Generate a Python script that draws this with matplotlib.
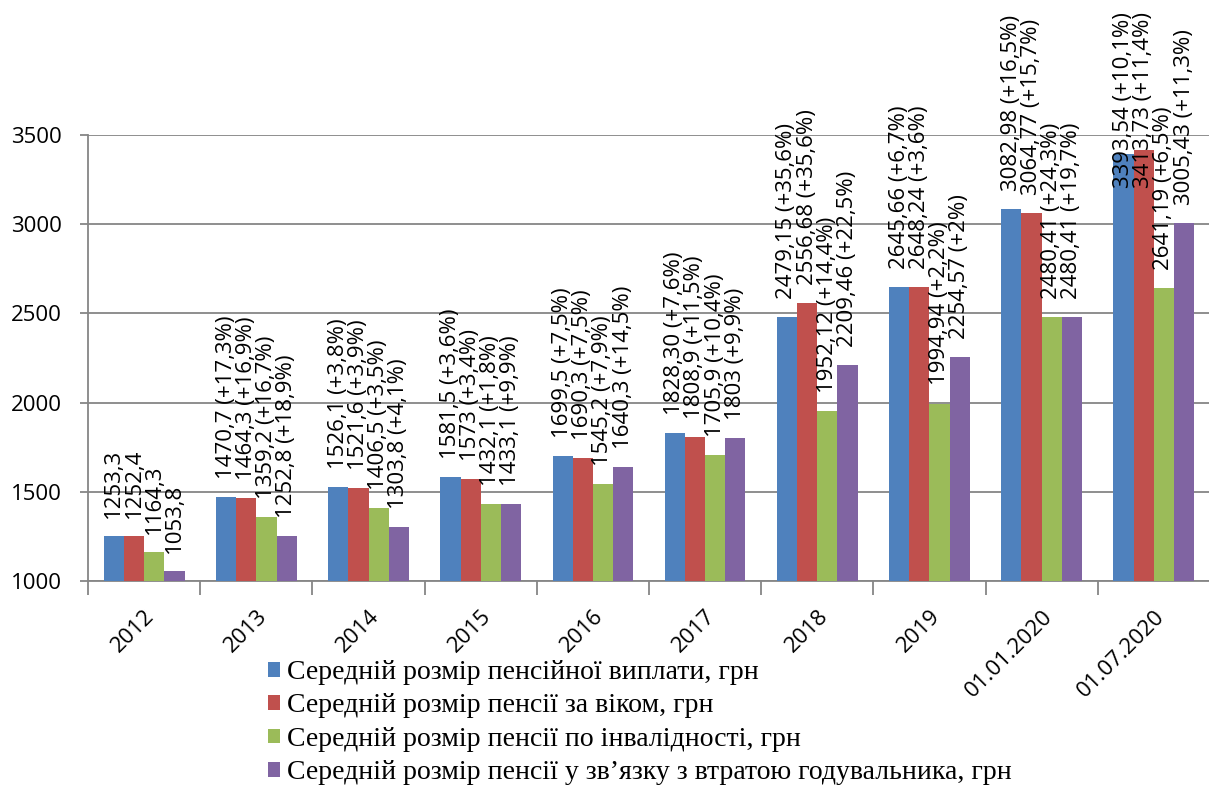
import matplotlib.pyplot as plt
import numpy as np

categories = ['2012', '2013', '2014', '2015', '2016', '2017', '2018', '2019',
              '01.01.2020', '01.07.2020']

avg_pension = [1253.3, 1470.7, 1526.1, 1581.5, 1699.5, 1828.30, 2479.15, 2645.66, 3082.98, 3393.54]
age_pension = [1252.4, 1464.3, 1521.6, 1573, 1690.3, 1808.9, 2556.68, 2648.24, 3064.77, 3413.73]
disab_pension = [1164.3, 1359.2, 1406.5, 1432.1, 1545.2, 1705.9, 1952.12, 1994.94, 2480.41, 2641.19]
surv_pension = [1053.8, 1252.8, 1303.8, 1433.1, 1640.3, 1803, 2209.46, 2254.57, 2480.41, 3005.43]

avg_labels = ['1253,3', '1470,7 (+17,3%)', '1526,1 (+3,8%)', '1581,5 (+3,6%)', '1699,5 (+7,5%)',
              '1828,30 (+7,6%)', '2479,15 (+35,6%)', '2645,66 (+6,7%)', '3082,98 (+16,5%)',
              '3393,54 (+10,1%)']
age_labels = ['1252,4', '1464,3 (+16,9%)', '1521,6 (+3,9%)', '1573 (+3,4%)', '1690,3 (+7,5%)',
              '1808,9 (+11,5%)', '2556,68 (+35,6%)', '2648,24 (+3,6%)', '3064,77 (+15,7%)',
              '3413,73 (+11,4%)']
disab_labels = ['1164,3', '1359,2 (+16,7%)', '1406,5 (+3,5%)', '1432,1 (+1,8%)', '1545,2 (+7,9%)',
                '1705,9 (+10,4%)', '1952,12 (+14,4%)', '1994,94 (+2,2%)', '2480,41 (+24,3%)',
                '2641,19 (+6,5%)']
surv_labels = ['1053,8', '1252,8 (+18,9%)', '1303,8 (+4,1%)', '1433,1 (+9,9%)', '1640,3 (+14,5%)',
               '1803 (+9,9%)', '2209,46 (+22,5%)', '2254,57 (+2%)', '2480,41 (+19,7%)',
               '3005,43 (+11,3%)']

series_names = ['Середній розмір пенсійної виплати, грн',
                'Середній розмір пенсії за віком, грн',
                'Середній розмір пенсії по інвалідності, грн',
                'Середній розмір пенсії у зв’язку з втратою годувальника, грн']
colors = ['#4F81BD', '#C0504D', '#9BBB59', '#8064A2']

series = [avg_pension, age_pension, disab_pension, surv_pension]
labels = [avg_labels, age_labels, disab_labels, surv_labels]

sans = ['Open Sans', 'DejaVu Sans']
serif = ['Liberation Serif', 'DejaVu Serif']
grey = '#868686'

fig = plt.figure(figsize=(12.09, 7.92), dpi=100)
ax = fig.add_axes([0.0728, 0.2664, 0.928, 0.5631])

x = np.arange(len(categories))
w = 0.18
annots = []
for i, (vals, lbls) in enumerate(zip(series, labels)):
    pos = x + (i - 1.5) * w
    ax.bar(pos, np.array(vals) - 1000, width=w, bottom=1000, color=colors[i],
           label=series_names[i], zorder=3)
    for px, v, t in zip(pos, vals, lbls):
        a = ax.annotate(t, (px, v), xytext=(0, 13), textcoords='offset points',
                        rotation=90, ha='center', va='bottom', fontsize=16,
                        family=sans, annotation_clip=False, zorder=5)
        annots.append(a)

ax.set_xlim(-0.5, len(categories) - 0.5)
ax.set_ylim(1000, 3500)
ax.set_yticks(np.arange(1000, 3501, 500))
ax.yaxis.grid(True, color=grey, lw=1.3, zorder=0)

for s in ['top', 'right']:
    ax.spines[s].set_visible(False)
for s in ['left', 'bottom']:
    ax.spines[s].set_color(grey)
    ax.spines[s].set_linewidth(1.3)

# category boundaries get the ticks, names sit in the middle
ax.set_xticks(np.arange(-0.5, len(categories), 1.0))
ax.set_xticklabels([])
ax.tick_params(axis='x', which='major', length=10, width=1.3, color=grey)
ax.set_xticks(x, minor=True)
ax.set_xticklabels(categories, minor=True, rotation=45, ha='right',
                   rotation_mode='anchor', fontsize=16, family=sans)
ax.tick_params(axis='x', which='minor', length=0, pad=18)
ax.tick_params(axis='y', length=6, width=1.3, color=grey, pad=13)
for t in ax.get_yticklabels():
    t.set_fontsize(16)
    t.set_family(sans)

leg = fig.legend(loc='upper left', bbox_to_anchor=(0.2215, 0.1665), frameon=False,
                 prop={'family': serif, 'size': 20}, handlelength=0.44, handleheight=0.44,
                 handletextpad=0.25, labelspacing=0.3, borderaxespad=0, borderpad=0)

# labels that would run off the top of the picture are pushed down, like Excel does
fig.canvas.draw()
r = fig.canvas.get_renderer()
top_px = fig.bbox.height - 12
for a in annots:
    bb = a.get_window_extent(r)
    if bb.y1 > top_px:
        shift = (bb.y1 - top_px) * 72 / fig.dpi
        a.xyann = (0, 13 - shift)

fig.savefig('out.png', dpi=100)
